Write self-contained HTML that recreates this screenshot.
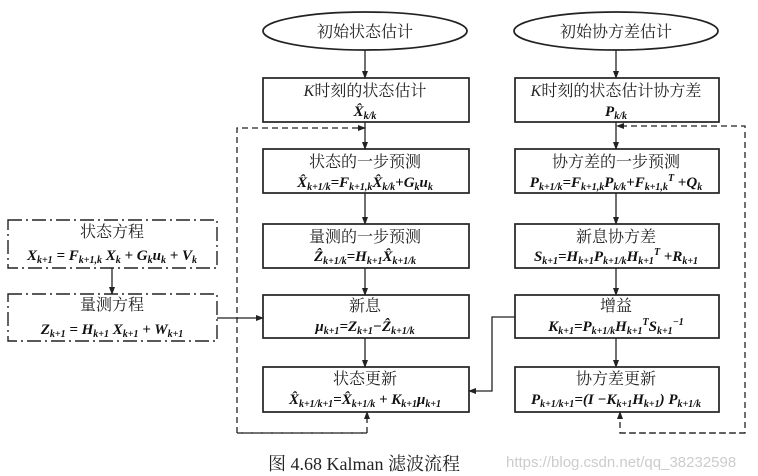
<!DOCTYPE html>
<html><head><meta charset="utf-8"><style>
body{margin:0;background:#fff}
svg{display:block}
.c{font-family:"Liberation Serif","Noto Serif CJK SC",serif;font-size:16px;fill:#222}
.f{font-family:"Liberation Serif",serif;font-size:15px;font-weight:bold;font-style:italic;fill:#111}
.s{font-size:10px}
</style></head><body>
<svg width="758" height="476" viewBox="0 0 758 476" xmlns="http://www.w3.org/2000/svg">
<defs><marker id="a" markerWidth="8" markerHeight="8" refX="7" refY="4" orient="auto" markerUnits="userSpaceOnUse"><path d="M0,1 L8,4 L0,7z" fill="#222"/></marker></defs>
<g stroke="#222" stroke-width="1.7" fill="none">
<ellipse cx="365" cy="31" rx="102" ry="19"/>
<ellipse cx="616" cy="31" rx="102" ry="19"/>
<rect x="263" y="78" width="206" height="44"/>
<rect x="263" y="149" width="206" height="44"/>
<rect x="263" y="224" width="206" height="44"/>
<rect x="263" y="295" width="206" height="43"/>
<rect x="263" y="367" width="206" height="45"/>
<rect x="515" y="78" width="204" height="44"/>
<rect x="515" y="149" width="204" height="44"/>
<rect x="515" y="224" width="204" height="44"/>
<rect x="515" y="295" width="204" height="43"/>
<rect x="515" y="367" width="204" height="45"/>
</g>
<g stroke="#222" stroke-width="1.4" fill="none" stroke-dasharray="14,4,2,4">
<rect x="8" y="220" width="209" height="48"/>
<rect x="8" y="294" width="209" height="47"/>
</g>
<g stroke="#222" stroke-width="1.3" fill="none" marker-end="url(#a)">
<line x1="365" y1="50" x2="365" y2="78"/>
<line x1="616" y1="50" x2="616" y2="78"/>
<line x1="365" y1="122" x2="365" y2="149"/>
<line x1="616" y1="122" x2="616" y2="149"/>
<line x1="365" y1="193" x2="365" y2="224"/>
<line x1="616" y1="193" x2="616" y2="224"/>
<line x1="365" y1="268" x2="365" y2="295"/>
<line x1="616" y1="268" x2="616" y2="295"/>
<line x1="365" y1="338" x2="365" y2="367"/>
<line x1="616" y1="338" x2="616" y2="367"/>
<line x1="112" y1="268" x2="112" y2="294"/>
<line x1="217" y1="318" x2="263" y2="318"/>
<polyline points="515,317 492,317 492,391 469,391"/>
</g>
<g stroke="#222" stroke-width="1.3" fill="none" stroke-dasharray="6,4" marker-end="url(#a)">
<polyline points="367,433 237,433 237,128 365,128"/>
<polyline points="237,433 367,433 367,412"/>
<polyline points="620,433 745,433 745,126 617,126"/>
<polyline points="745,433 620,433 620,412"/>
</g>
<g class="c" text-anchor="middle">
<text x="365" y="37">初始状态估计</text>
<text x="616" y="37">初始协方差估计</text>
<text x="365" y="96"><tspan font-style="italic">K</tspan>时刻的状态估计</text>
<text x="616" y="96"><tspan font-style="italic">K</tspan>时刻的状态估计协方差</text>
<text x="365" y="167">状态的一步预测</text>
<text x="616" y="167">协方差的一步预测</text>
<text x="365" y="242">量测的一步预测</text>
<text x="616" y="242">新息协方差</text>
<text x="365" y="311">新息</text>
<text x="616" y="311">增益</text>
<text x="365" y="384">状态更新</text>
<text x="616" y="384">协方差更新</text>
<text x="112" y="237">状态方程</text>
<text x="112" y="310">量测方程</text>
</g>
<g class="f" text-anchor="middle">
<text x="365" y="116">X̂<tspan class="s" dy="3">k/k</tspan></text>
<text x="616" y="116">P<tspan class="s" dy="3">k/k</tspan></text>
<text x="365" y="187">X̂<tspan class="s" dy="3">k+1/k</tspan><tspan dy="-3">=F</tspan><tspan class="s" dy="3">k+1,k</tspan><tspan dy="-3">X̂</tspan><tspan class="s" dy="3">k/k</tspan><tspan dy="-3">+G</tspan><tspan class="s" dy="3">k</tspan><tspan dy="-3">u</tspan><tspan class="s" dy="3">k</tspan></text>
<text x="616" y="187">P<tspan class="s" dy="3">k+1/k</tspan><tspan dy="-3">=F</tspan><tspan class="s" dy="3">k+1,k</tspan><tspan dy="-3">P</tspan><tspan class="s" dy="3">k/k</tspan><tspan dy="-3">+F</tspan><tspan class="s" dy="3">k+1,k</tspan><tspan class="s" dy="-9">T</tspan><tspan dy="6"> +Q</tspan><tspan class="s" dy="3">k</tspan></text>
<text x="365" y="261">Ẑ<tspan class="s" dy="3">k+1/k</tspan><tspan dy="-3">=H</tspan><tspan class="s" dy="3">k+1</tspan><tspan dy="-3">X̂</tspan><tspan class="s" dy="3">k+1/k</tspan></text>
<text x="616" y="261">S<tspan class="s" dy="3">k+1</tspan><tspan dy="-3">=H</tspan><tspan class="s" dy="3">k+1</tspan><tspan dy="-3">P</tspan><tspan class="s" dy="3">k+1/k</tspan><tspan dy="-3">H</tspan><tspan class="s" dy="3">k+1</tspan><tspan class="s" dy="-9">T</tspan><tspan dy="6"> +R</tspan><tspan class="s" dy="3">k+1</tspan></text>
<text x="365" y="331">μ<tspan class="s" dy="3">k+1</tspan><tspan dy="-3">=Z</tspan><tspan class="s" dy="3">k+1</tspan><tspan dy="-3">−Ẑ</tspan><tspan class="s" dy="3">k+1/k</tspan></text>
<text x="616" y="331">K<tspan class="s" dy="3">k+1</tspan><tspan dy="-3">=P</tspan><tspan class="s" dy="3">k+1/k</tspan><tspan dy="-3">H</tspan><tspan class="s" dy="3">k+1</tspan><tspan class="s" dy="-9">T</tspan><tspan dy="6">S</tspan><tspan class="s" dy="3">k+1</tspan><tspan class="s" dy="-9">−1</tspan></text>
<text x="365" y="404">X̂<tspan class="s" dy="3">k+1/k+1</tspan><tspan dy="-3">=X̂</tspan><tspan class="s" dy="3">k+1/k</tspan><tspan dy="-3"> + K</tspan><tspan class="s" dy="3">k+1</tspan><tspan dy="-3">μ</tspan><tspan class="s" dy="3">k+1</tspan></text>
<text x="616" y="404">P<tspan class="s" dy="3">k+1/k+1</tspan><tspan dy="-3">=(I −K</tspan><tspan class="s" dy="3">k+1</tspan><tspan dy="-3">H</tspan><tspan class="s" dy="3">k+1</tspan><tspan dy="-3">) P</tspan><tspan class="s" dy="3">k+1/k</tspan></text>
<text x="112" y="260">X<tspan class="s" dy="3">k+1</tspan><tspan dy="-3"> = F</tspan><tspan class="s" dy="3">k+1,k</tspan><tspan dy="-3"> X</tspan><tspan class="s" dy="3">k</tspan><tspan dy="-3"> + G</tspan><tspan class="s" dy="3">k</tspan><tspan dy="-3">u</tspan><tspan class="s" dy="3">k</tspan><tspan dy="-3"> + V</tspan><tspan class="s" dy="3">k</tspan></text>
<text x="112" y="334">Z<tspan class="s" dy="3">k+1</tspan><tspan dy="-3"> = H</tspan><tspan class="s" dy="3">k+1</tspan><tspan dy="-3"> X</tspan><tspan class="s" dy="3">k+1</tspan><tspan dy="-3"> + W</tspan><tspan class="s" dy="3">k+1</tspan></text>
</g>
<text x="268" y="470" class="c" style="font-size:18px">图 4.68   Kalman 滤波流程</text>
<text x="506" y="467" style="font-family:'Liberation Sans',sans-serif;font-size:15px;fill:#ccc">https://blog.csdn.net/qq_38232598</text>
</svg>
</body></html>
